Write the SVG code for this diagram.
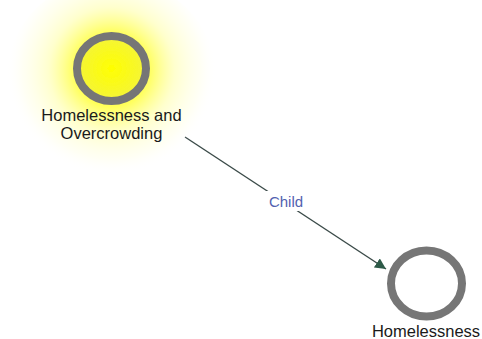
<svg xmlns="http://www.w3.org/2000/svg" width="482" height="339" viewBox="0 0 482 339">
  <defs>
    <radialGradient id="glow" cx="111.5" cy="70" r="105" gradientUnits="userSpaceOnUse">
      <stop offset="0" stop-color="#ffff00" stop-opacity="1"/>
      <stop offset="0.35" stop-color="#ffff30" stop-opacity="0.8"/>
      <stop offset="0.6" stop-color="#ffff90" stop-opacity="0.45"/>
      <stop offset="0.85" stop-color="#ffffc8" stop-opacity="0.2"/>
      <stop offset="1" stop-color="#ffffff" stop-opacity="0"/>
    </radialGradient>
    <radialGradient id="core" cx="0.5" cy="0.5" r="0.5">
      <stop offset="0" stop-color="#ffff00"/>
      <stop offset="1" stop-color="#f4f43a"/>
    </radialGradient>
    <filter id="soft" x="-20%" y="-20%" width="140%" height="140%">
      <feGaussianBlur stdDeviation="0.7"/>
    </filter>
    <marker id="arrow" viewBox="0 0 10 10" refX="10" refY="5" markerWidth="11" markerHeight="11" markerUnits="userSpaceOnUse" orient="auto">
      <path d="M0,0 L10,5 L0,10 Z" fill="#2e5a48"/>
    </marker>
    <style>
      .ring { stroke: #767676; stroke-width: 8; }
      .label { font-family: "Liberation Sans", Arial, sans-serif; font-size: 16.5px; fill: #1a1a1a; text-anchor: middle; }
      .edge { stroke: #3a4a48; stroke-width: 1.4; fill: none; }
      .elabel { font-family: "Liberation Sans", Arial, sans-serif; font-size: 15px; fill: #5262b0; text-anchor: middle; }
    </style>
  </defs>
  <rect width="482" height="339" fill="#ffffff"/>

  <g id="connectors">
    <line class="edge" x1="185" y1="137" x2="386" y2="269" marker-end="url(#arrow)"/>
    <rect x="265" y="191" width="42" height="20" fill="#ffffff"/>
    <text class="elabel" x="286" y="207">Child</text>
  </g>

  <g id="node-homelessness-and-overcrowding">
    <ellipse cx="111.5" cy="78" rx="105" ry="100" fill="url(#glow)"/>
    <ellipse class="ring" cx="111.5" cy="68.5" rx="34.5" ry="32.5" fill="url(#core)" filter="url(#soft)"/>
    <text class="label" x="111.5" y="121">Homelessness and</text>
    <text class="label" x="111.5" y="139">Overcrowding</text>
  </g>

  <g id="node-homelessness">
    <ellipse class="ring" cx="426.5" cy="283.5" rx="35.5" ry="33" fill="#ffffff" filter="url(#soft)"/>
    <text class="label" x="426" y="337">Homelessness</text>
  </g>
</svg>
